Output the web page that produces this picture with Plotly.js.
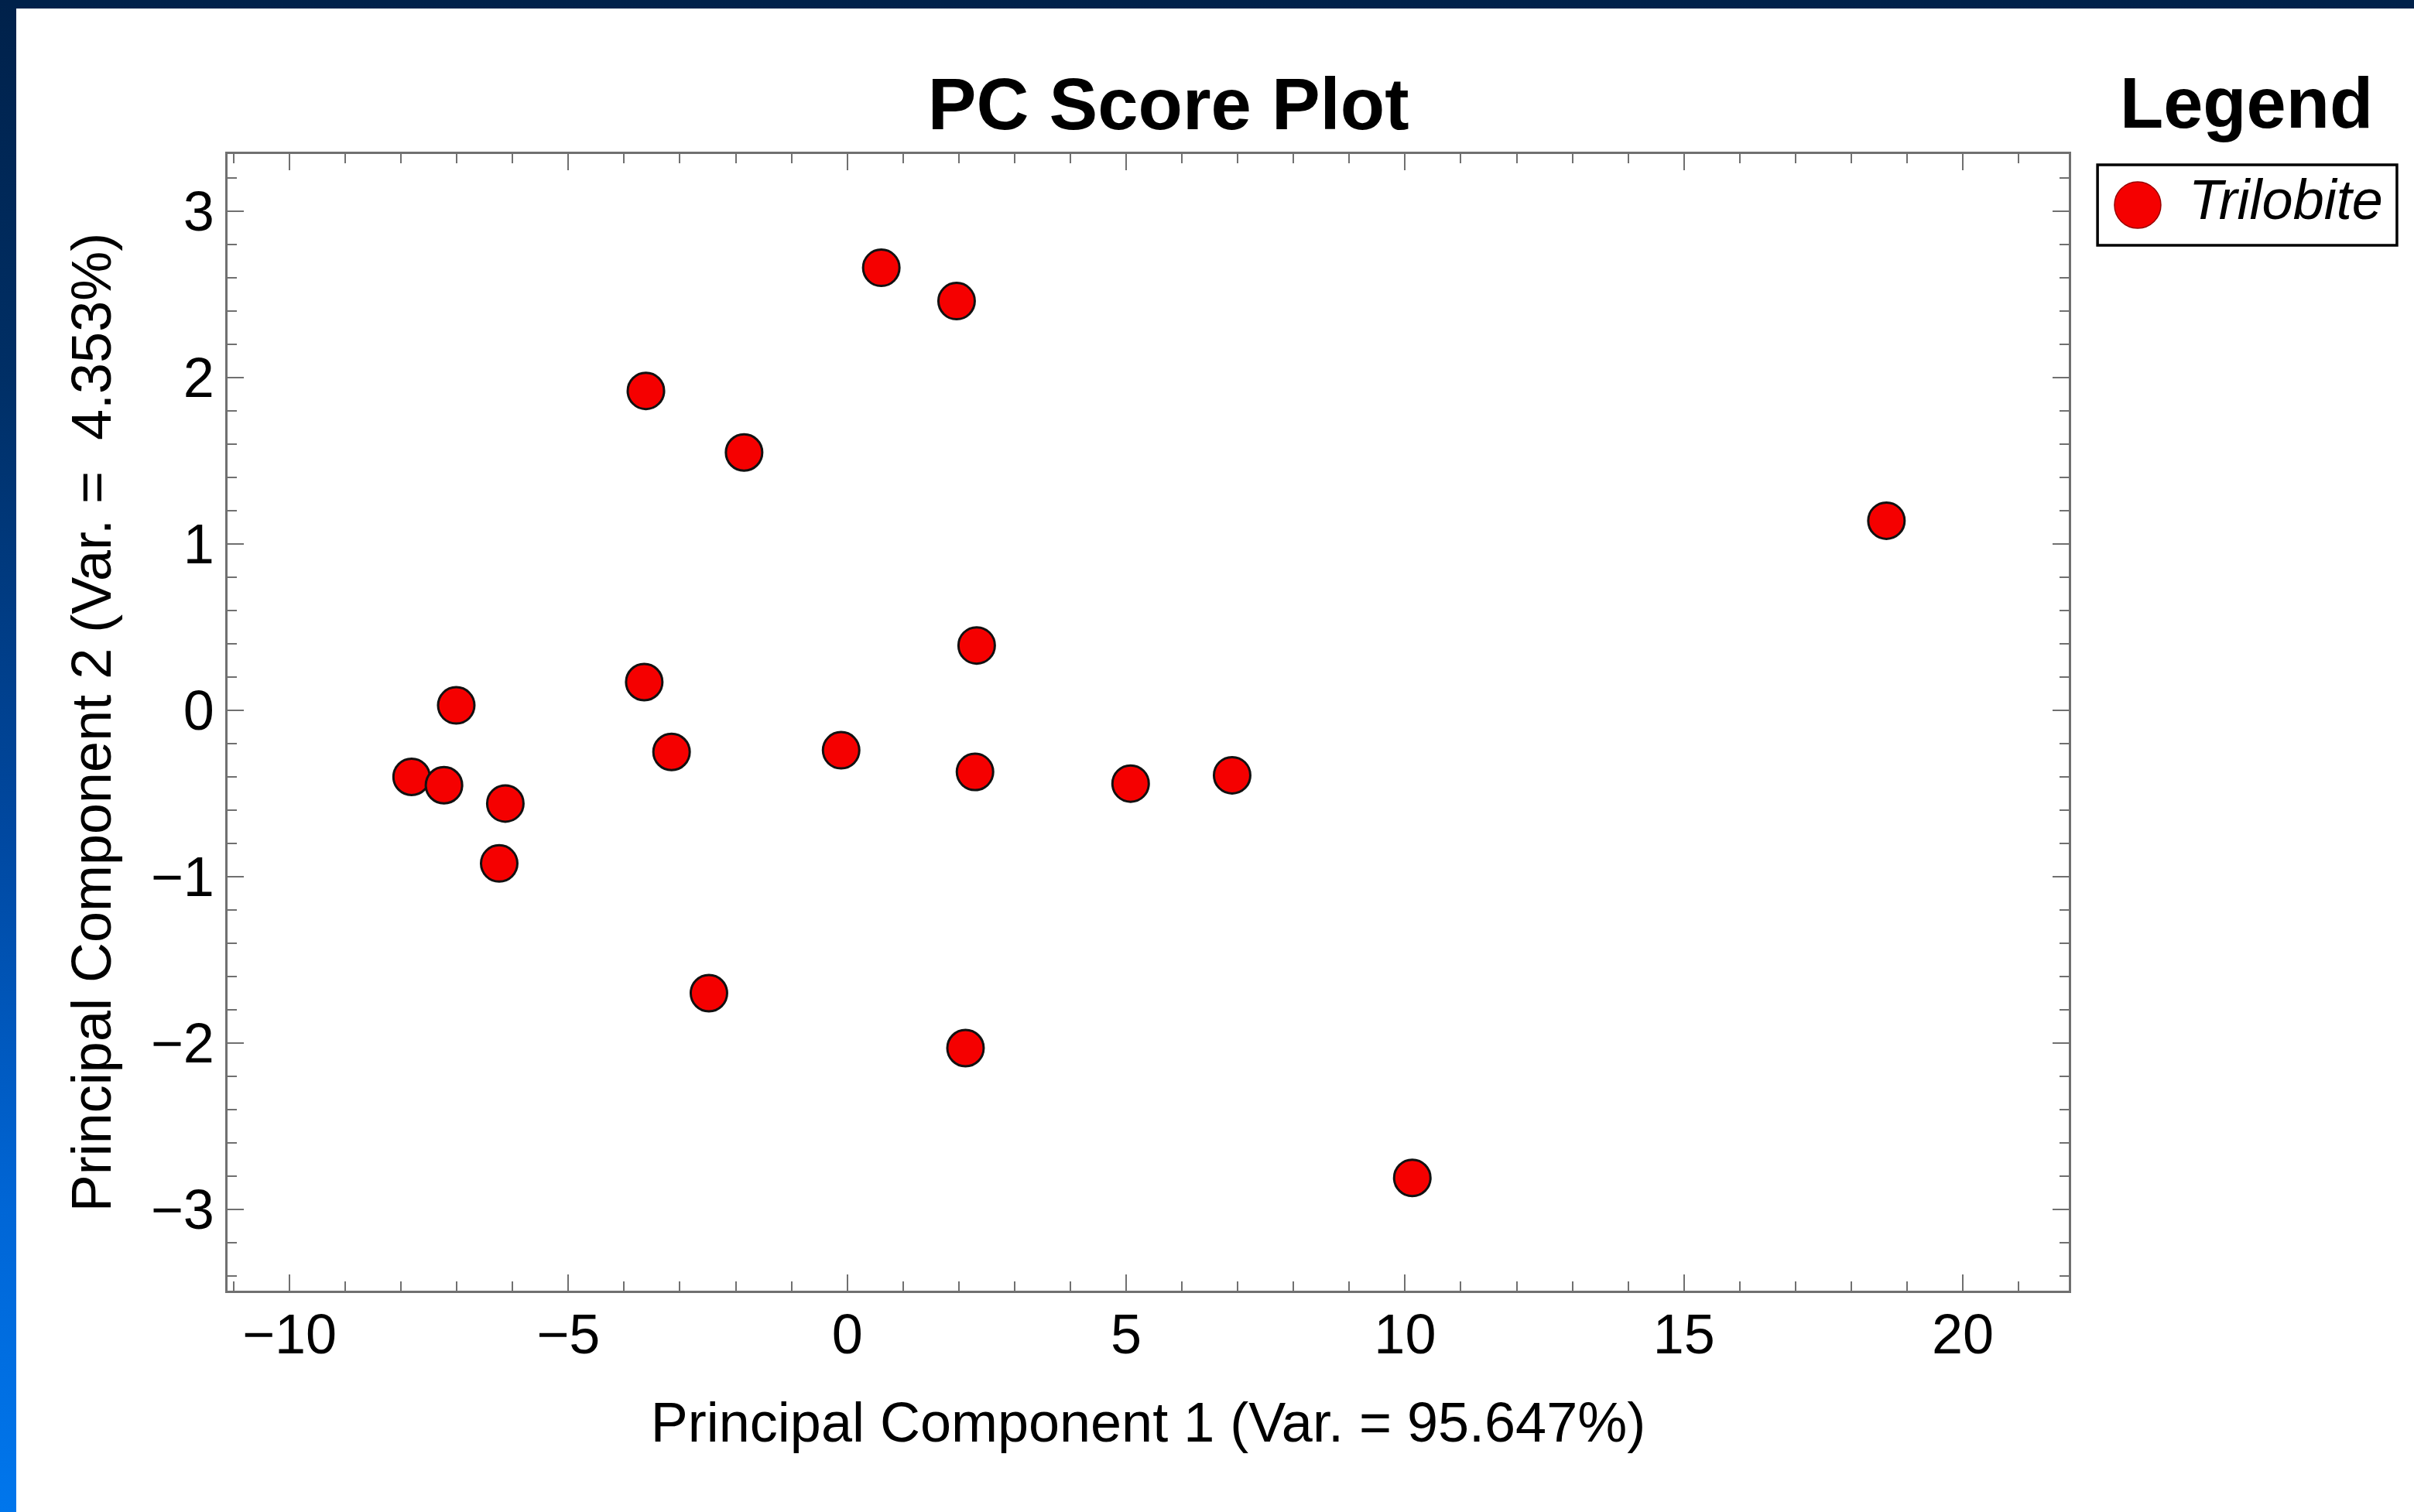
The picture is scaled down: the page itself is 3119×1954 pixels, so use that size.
<!DOCTYPE html>
<html>
<head>
<meta charset="utf-8">
<script src="https://cdn.plot.ly/plotly-3.0.1.min.js"></script>
<style>
  html, body {
    margin: 0;
    padding: 0;
    width: 3119px;
    height: 1954px;
    overflow: hidden;
    background: linear-gradient(180deg, #00214a 0%, #002f66 25%, #0048a0 55%, #0066d6 80%, #0076ec 100%);
  }
  #chart {
    position: absolute;
    left: 21px;
    top: 11px;
    width: 3098px;
    height: 1943px;
    background: #ffffff;
  }
</style>
</head>
<body>
<div id="chart"></div>
<script>
// Principal component scores, one entry per specimen
const seriesName = "Trilobite";
const pc1 = [0.61, 1.96, -3.61, -1.85, 18.63, 2.32, -3.64, -7.01, -7.81, -7.23,
             -6.13, -3.15, -0.11, 2.29, 5.08, 6.90, -6.24, -2.48, 2.12, 10.13];
const pc2 = [2.66, 2.46, 1.92, 1.55, 1.14, 0.39, 0.17, 0.03, -0.40, -0.45,
             -0.56, -0.25, -0.24, -0.37, -0.44, -0.39, -0.92, -1.70, -2.03, -2.81];

const chartTitle = "PC Score Plot";
const xTitle = "Principal Component 1 (Var. = 95.647%)";
const yTitle = "Principal Component 2 (Var. =  4.353%)";
const legendTitle = "Legend";

const FONT = "Liberation Sans, Arial, Helvetica, sans-serif";
const AXIS_GREY = "#707070";

const trace = {
  type: "scatter",
  mode: "markers",
  name: seriesName,
  x: pc1,
  y: pc2,
  marker: {
    color: "#f50000",
    size: 47,
    line: { color: "#111111", width: 3 }
  },
  showlegend: false,
  hoverinfo: "x+y"
};

function axisStyle(dtick, minorDtick, range) {
  return {
    range: range,
    tickmode: "linear",
    tick0: 0,
    dtick: dtick,
    ticks: "inside",
    ticklen: 21,
    tickwidth: 2.2,
    tickcolor: AXIS_GREY,
    minor: {
      tickmode: "linear",
      tick0: 0,
      dtick: minorDtick,
      ticks: "inside",
      ticklen: 12,
      tickwidth: 2.2,
      tickcolor: AXIS_GREY,
      showgrid: false
    },
    showline: true,
    linecolor: AXIS_GREY,
    linewidth: 2.5,
    mirror: "allticks",
    showgrid: false,
    zeroline: false,
    tickfont: { family: FONT, size: 72, color: "#000000" },
    automargin: false
  };
}

const xaxis = Object.assign(axisStyle(5, 1, [-11.11, 21.90]), {
  ticklabelstandoff: -8,
  title: { text: xTitle, font: { family: FONT, size: 72, color: "#000000" }, standoff: 50 }
});
const yaxis = Object.assign(axisStyle(1, 0.2, [-3.488, 3.344]), {
  ticklabelstandoff: 0,
  title: { text: yTitle, font: { family: FONT, size: 72, color: "#000000" }, standoff: 28 }
});

// Legend panel placed to the right of the frame
const legendShapes = [
  {
    type: "rect", xref: "paper", yref: "paper",
    x0: 1.0156, x1: 1.1782, y0: 0.9197, y1: 0.9905,
    line: { color: "#000000", width: 3.5 },
    fillcolor: "#ffffff", layer: "above"
  },
  {
    type: "circle", xref: "paper", yref: "paper",
    xsizemode: "pixel", ysizemode: "pixel",
    xanchor: 1.0374, yanchor: 0.9551,
    x0: -30, x1: 30, y0: -30, y1: 30,
    fillcolor: "#f50000",
    line: { color: "#990000", width: 1.5 },
    layer: "above"
  }
];

const annotations = [
  {
    text: legendTitle, xref: "paper", yref: "paper",
    x: 1.0963, y: 1.0449, xanchor: "center", yanchor: "middle",
    showarrow: false,
    font: { family: FONT, size: 92, color: "#000000", weight: 700 }
  },
  {
    text: seriesName, xref: "paper", yref: "paper",
    x: 1.0645, y: 0.9598, xanchor: "left", yanchor: "middle",
    showarrow: false,
    font: { family: FONT, size: 72, color: "#000000", style: "italic" }
  }
];

const layout = {
  width: 3098,
  height: 1943,
  margin: { l: 273, r: 446, t: 188, b: 286, pad: 0 },
  paper_bgcolor: "#ffffff",
  plot_bgcolor: "#ffffff",
  title: {
    text: chartTitle,
    xref: "paper", x: 0.511, xanchor: "center",
    yref: "container", y: 0.9364, yanchor: "middle",
    font: { family: FONT, size: 94, color: "#000000", weight: 700 }
  },
  xaxis: xaxis,
  yaxis: yaxis,
  shapes: legendShapes,
  annotations: annotations,
  showlegend: false
};

Plotly.newPlot("chart", [trace], layout, { displayModeBar: false, responsive: false });
</script>
</body>
</html>
